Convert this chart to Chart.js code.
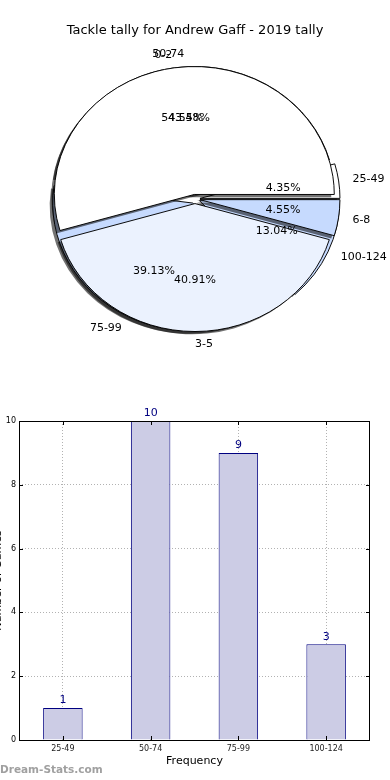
<!DOCTYPE html>
<html>
<head>
<meta charset="utf-8">
<script src="https://cdn.jsdelivr.net/npm/chart.js@4.4.1/dist/chart.umd.min.js"></script>
<style>
  body { margin: 0; background: #fff; font-family: "DejaVu Sans", sans-serif; }
  #wrap { position: relative; width: 390px; height: 780px; overflow: hidden; }
  #wrap canvas { position: absolute; left: 0; }
  #title { position: absolute; top: 22px; left: 0; width: 390px; text-align: center; font-size: 13px; color: #000; }
  #mark { position: absolute; left: 0; top: 763px; font-size: 10.5px; font-weight: bold; color: #a0a0a0; }
</style>
</head>
<body>
<div id="wrap">
  <canvas id="pie-a" width="390" height="398" style="top:0"></canvas>
  <canvas id="pie-b" width="390" height="398" style="top:0"></canvas>
  <canvas id="bar" width="390" height="380" style="top:400px"></canvas>
  <div id="title">Tackle tally for Andrew Gaff - 2019 tally</div>
  <div id="mark">Dream-Stats.com</div>
</div>
<script>
// Tackle tally page

// Data
const rangeLabels = ['25-49', '50-74', '75-99', '100-124'];
const rangeGames = [1, 10, 9, 3];

const tackleLabels = ['0-2', '3-5', '6-8'];
const tackleGames = [12, 9, 1];

const barValues = [1, 10, 9, 3];
const yMax = 10;
const yStep = 2;

// Styles
const rangeColors = ['#ffffff', '#ffffff', '#c6dafe', '#c6dafe'];
const rangeExplode = [5, 5, 5, 5];
const tackleColors = ['#ffffff', '#ebf2fe', '#c6dafe'];
const tackleExplode = [5, 5, 5];
const FONT = '"DejaVu Sans", sans-serif';
const PIE_R = 140;
const SQUASH = 0.914; // pie is drawn a bit flatter than round

// move each wedge out along its middle, like matplotlib's explode
function explodePlugin(explode) {
    const ex = explode.slice().reverse();
    return {
        id: 'explode',
        afterDatasetsUpdate(chart) {
            chart.getDatasetMeta(0).data.forEach((arc, i) => {
                const mid = (arc.startAngle + arc.endAngle) / 2;
                arc.x += Math.cos(mid) * ex[i];
                arc.y += Math.sin(mid) * ex[i];
            });
        },
    };
}

function squashPlugin(withShadow) {
    return {
        id: 'squash',
        beforeDatasetsDraw(chart) {
            const ctx = chart.ctx;
            const cy = (chart.chartArea.top + chart.chartArea.bottom) / 2;
            ctx.save();
            ctx.translate(0, cy);
            ctx.scale(1, SQUASH);
            ctx.translate(0, -cy);
            if (withShadow) {
                ctx.save();
                ctx.fillStyle = 'rgba(0,0,0,0.55)';
                chart.getDatasetMeta(0).data.forEach(arc => {
                    ctx.beginPath();
                    ctx.moveTo(arc.x - 3, arc.y + 3);
                    ctx.arc(arc.x - 3, arc.y + 3, arc.outerRadius, arc.startAngle, arc.endAngle);
                    ctx.closePath();
                    ctx.fill();
                });
                ctx.restore();
            }
        },
        afterDatasetsDraw(chart) {
            chart.ctx.restore();
        },
    };
}

// matplotlib draws counter-clockwise from 3 o'clock, chart.js clockwise,
// so reverse the order and start at 90deg
function pieConfig(labels, values, colors, plugins) {
    return {
        type: 'pie',
        data: {
            labels: labels.slice().reverse(),
            datasets: [{
                data: values.slice().reverse(),
                backgroundColor: colors.slice().reverse(),
                borderColor: '#000',
                borderWidth: 1,
            }],
        },
        options: {
            responsive: false,
            animation: false,
            events: [],
            rotation: 90,
            radius: PIE_R,
            plugins: { legend: { display: false }, tooltip: { enabled: false } },
        },
        plugins: plugins,
    };
}

function drawPieText(ctx, chart) {
    const meta = chart.getDatasetMeta(0);
    const values = chart.data.datasets[0].data;
    const labels = chart.data.labels;
    const total = values.reduce((a, b) => a + b, 0);
    const cy = (chart.chartArea.top + chart.chartArea.bottom) / 2;
    const sy = y => cy + (y - cy) * SQUASH;
    ctx.save();
    ctx.font = '11px ' + FONT;
    ctx.fillStyle = '#000';
    ctx.textBaseline = 'middle';
    meta.data.forEach((arc, i) => {
        const mid = (arc.startAngle + arc.endAngle) / 2;
        const r = arc.outerRadius;
        const cos = Math.cos(mid), sin = Math.sin(mid);
        ctx.textAlign = cos >= -1e-6 ? 'left' : 'right';
        ctx.fillText(labels[i], arc.x + cos * r * 1.1, sy(arc.y + sin * r * 1.1));
        ctx.textAlign = 'center';
        const pct = (values[i] / total * 100).toFixed(2) + '%';
        ctx.fillText(pct, arc.x + cos * r * 0.6, sy(arc.y + sin * r * 0.6));
    });
    ctx.restore();
}

const pieA = new Chart(document.getElementById('pie-a'),
    pieConfig(rangeLabels, rangeGames, rangeColors, [explodePlugin(rangeExplode), squashPlugin(true)]));

// second pie sits on top, so it writes the text of both
const pieText = {
    id: 'pieText',
    afterDraw(chart) {
        drawPieText(chart.ctx, pieA);
        drawPieText(chart.ctx, chart);
    },
};
new Chart(document.getElementById('pie-b'),
    pieConfig(tackleLabels, tackleGames, tackleColors,
        [explodePlugin(tackleExplode), squashPlugin(true), pieText]));

// Bar chart
const barText = {
    id: 'barText',
    afterDatasetsDraw(chart) {
        const ctx = chart.ctx;
        const meta = chart.getDatasetMeta(0);
        ctx.save();
        ctx.font = '11px ' + FONT;
        ctx.fillStyle = '#000080';
        ctx.textAlign = 'center';
        ctx.textBaseline = 'bottom';
        meta.data.forEach((bar, i) => {
            ctx.fillText(String(barValues[i]), bar.x, bar.y - 2);
        });
        ctx.restore();
    },
};

const frame = {
    id: 'frame',
    afterDraw(chart) {
        const ctx = chart.ctx;
        const a = chart.chartArea;
        ctx.save();
        ctx.strokeStyle = '#000';
        ctx.lineWidth = 1;
        ctx.strokeRect(Math.round(a.left) + 0.5, Math.round(a.top) + 0.5,
            Math.round(a.right - a.left) - 1, Math.round(a.bottom - a.top));
        // inward tick marks, both sides
        ctx.beginPath();
        chart.scales.y.ticks.forEach(t => {
            const y = Math.round(chart.scales.y.getPixelForValue(t.value)) + 0.5;
            ctx.moveTo(a.left, y); ctx.lineTo(a.left + 4, y);
            ctx.moveTo(a.right, y); ctx.lineTo(a.right - 4, y);
        });
        chart.scales.x.ticks.forEach((t, i) => {
            const x = Math.round(chart.scales.x.getPixelForTick(i)) + 0.5;
            ctx.moveTo(x, a.bottom); ctx.lineTo(x, a.bottom - 4);
            ctx.moveTo(x, a.top); ctx.lineTo(x, a.top + 4);
        });
        ctx.stroke();
        // y title, mostly cut off by the left edge
        ctx.translate(1, (a.top + a.bottom) / 2);
        ctx.rotate(-Math.PI / 2);
        ctx.font = '11px ' + FONT;
        ctx.fillStyle = '#000';
        ctx.textAlign = 'center';
        ctx.textBaseline = 'alphabetic';
        ctx.fillText('Number of Games', 0, 0);
        ctx.restore();
    },
};

new Chart(document.getElementById('bar'), {
    type: 'bar',
    data: {
        labels: rangeLabels,
        datasets: [{
            data: barValues,
            backgroundColor: '#ccccE5',
            borderColor: '#000080',
            borderWidth: 1,
            barPercentage: 0.45,
            categoryPercentage: 1,
        }],
    },
    options: {
        responsive: false,
        animation: false,
        events: [],
        layout: { padding: { left: 0, right: 20, top: 21, bottom: 0 } },
        plugins: { legend: { display: false }, tooltip: { enabled: false } },
        scales: {
            x: {
                grid: { offset: false, drawTicks: false, color: 'rgba(0,0,0,0.3)' },
                border: { display: false, dash: [1, 2] },
                ticks: { font: { size: 8, family: FONT }, color: '#222', padding: 4 },
                title: { display: true, text: 'Frequency', color: '#000',
                    font: { size: 11, family: FONT }, padding: { top: 0, bottom: 12 } },
                afterFit(scale) { scale.height = 40; },
            },
            y: {
                min: 0,
                max: yMax,
                grid: { drawTicks: false, color: 'rgba(0,0,0,0.3)' },
                border: { display: false, dash: [1, 2] },
                ticks: { stepSize: yStep, font: { size: 8, family: FONT }, color: '#000', padding: 3 },
                afterFit(scale) { scale.width = 19; },
            },
        },
    },
    plugins: [barText, frame],
});
</script>
</body>
</html>
